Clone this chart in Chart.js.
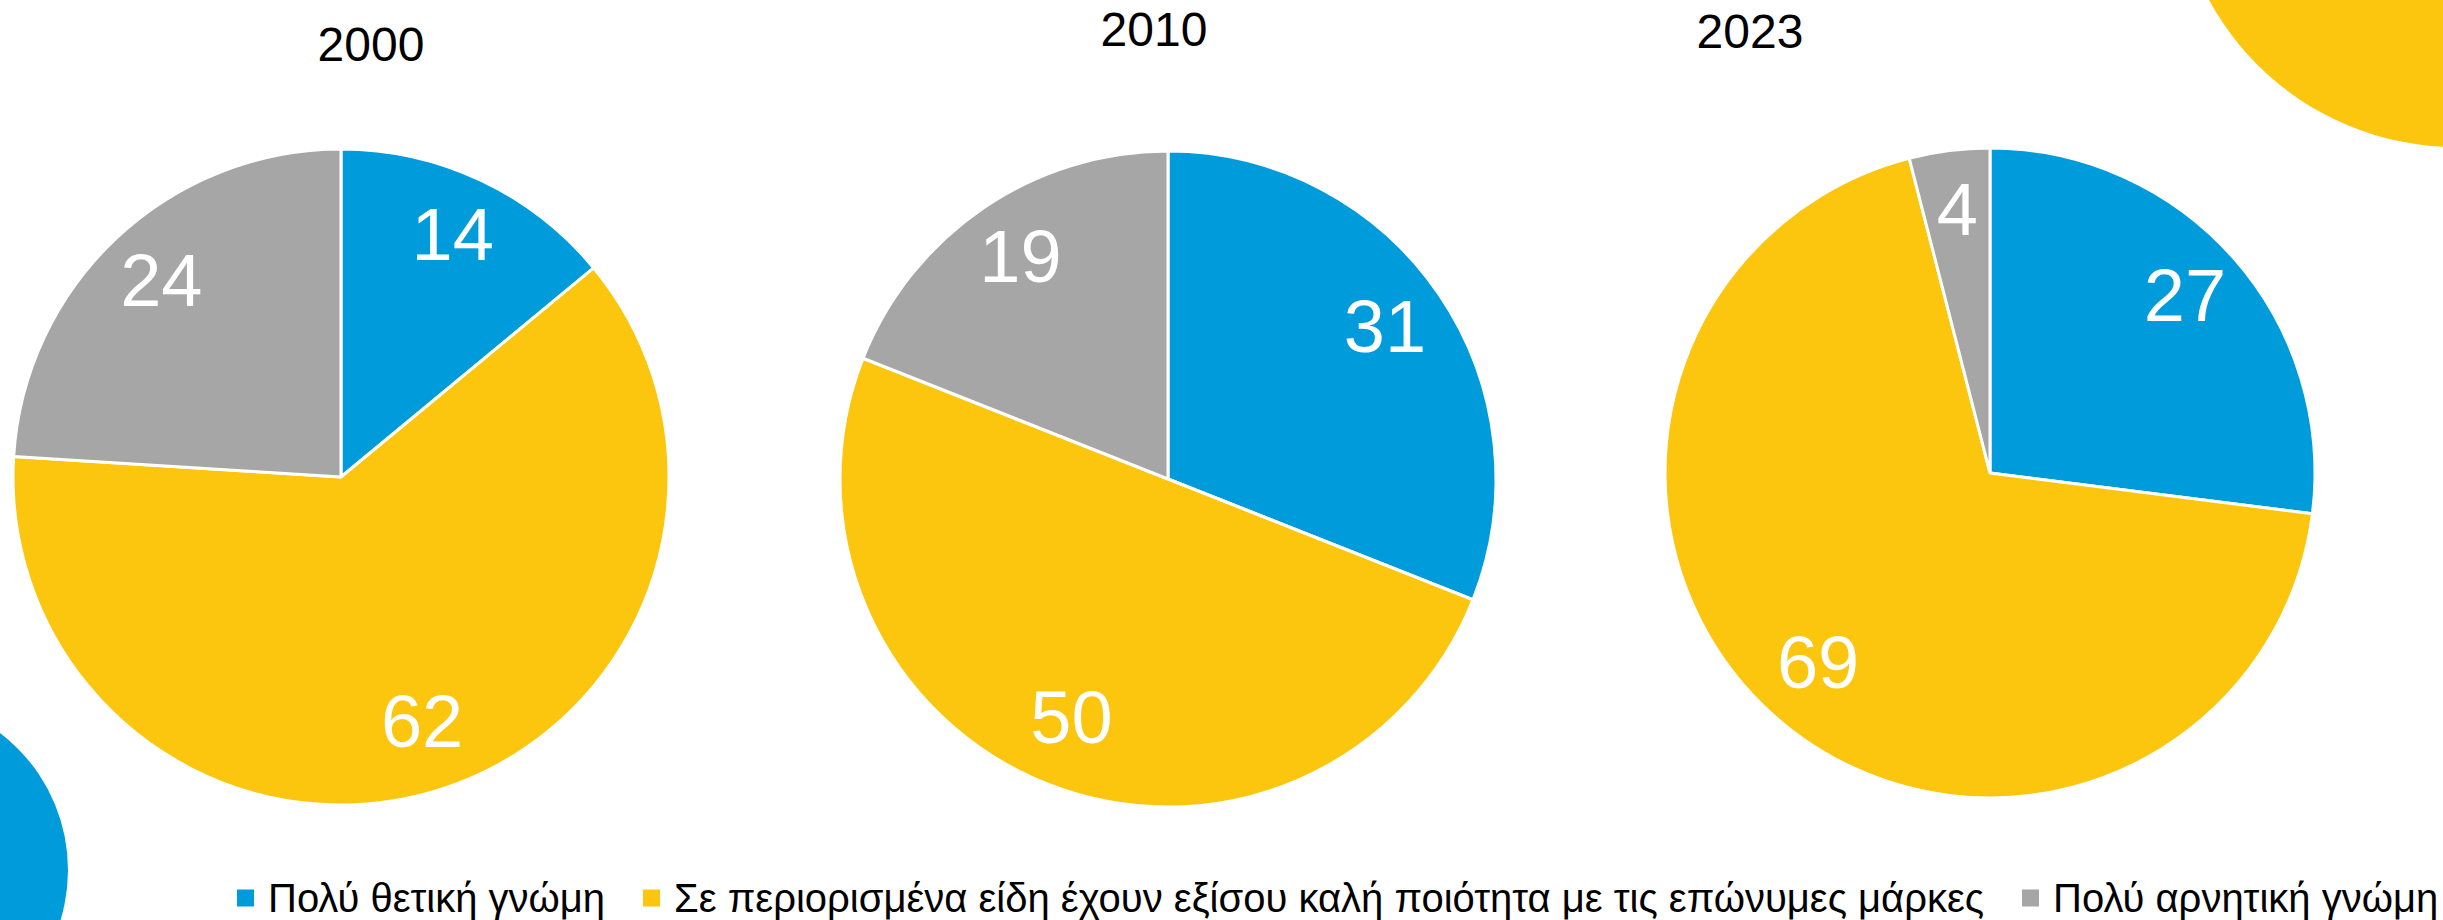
<!DOCTYPE html>
<html>
<head>
<meta charset="utf-8">
<script src="https://cdn.jsdelivr.net/npm/chart.js@4"></script>
<style>
  html, body { margin: 0; padding: 0; background: #fff; }
  body { width: 2443px; height: 920px; position: relative; overflow: hidden; font-family: "Liberation Sans", Arial, sans-serif; }
  .deco { position: absolute; border-radius: 50%; }
  .pie { position: absolute; width: 720px; height: 720px; }
  .year { position: absolute; font-size: 48px; line-height: 1; color: #000; transform: translate(-50%, -50%); white-space: nowrap; }
  #legend { position: absolute; left: 237px; top: 898px; transform: translateY(-50%); display: flex; align-items: center; white-space: nowrap; }
  .item { display: flex; align-items: center; margin-right: 38px; font-size: 40px; color: #000; }
  .box { width: 17px; height: 17px; margin-right: 14px; }
</style>
</head>
<body>
<!-- decorative circles -->
<div class="deco" style="left:-276px; top:698px; width:344px; height:344px; background:#009bdb;"></div>
<div class="deco" style="left:2175px; top:-415px; width:562px; height:562px; background:#fcc60f;"></div>

<div class="pie" style="left:-19px; top:117px;"><canvas id="pie0" width="720" height="720"></canvas></div>
<div class="pie" style="left:808px; top:119px;"><canvas id="pie1" width="720" height="720"></canvas></div>
<div class="pie" style="left:1630px; top:113px;"><canvas id="pie2" width="720" height="720"></canvas></div>

<div class="year" style="left:371px; top:45px;">2000</div>
<div class="year" style="left:1154px; top:30px;">2010</div>
<div class="year" style="left:1750px; top:32px;">2023</div>

<div id="legend"></div>

<script>
// δεδομένα
const years = ['2000', '2010', '2023'];
const categories = [
    'Πολύ θετική γνώμη',
    'Σε περιορισμένα είδη έχουν εξίσου καλή ποιότητα με τις επώνυμες μάρκες',
    'Πολύ αρνητική γνώμη'
];
const values2000 = [14, 62, 24];
const values2010 = [31, 50, 19];
const values2023 = [27, 69, 4];

const colors = ['#009bdb', '#fcc60f', '#a6a6a6'];
const radii = [328, 328, 325];

// labels inside the slices, at 80% of the radius
const sliceLabels = {
    id: 'sliceLabels',
    afterDatasetsDraw(chart) {
        const ctx = chart.ctx;
        const meta = chart.getDatasetMeta(0);
        const data = chart.data.datasets[0].data;
        ctx.save();
        ctx.fillStyle = '#fff';
        ctx.font = '74px "Liberation Sans", Arial, sans-serif';
        ctx.textAlign = 'center';
        ctx.textBaseline = 'middle';
        meta.data.forEach((arc, i) => {
            const p = arc.getProps(['x', 'y', 'startAngle', 'endAngle', 'outerRadius'], true);
            const mid = (p.startAngle + p.endAngle) / 2;
            const r = p.outerRadius * 0.8;
            ctx.fillText(String(data[i]), p.x + Math.cos(mid) * r, p.y + Math.sin(mid) * r);
        });
        ctx.restore();
    }
};

[values2000, values2010, values2023].forEach((vals, i) => {
    new Chart(document.getElementById('pie' + i), {
        type: 'pie',
        data: {
            labels: categories,
            datasets: [{
                label: years[i],
                data: vals,
                backgroundColor: colors,
                borderColor: '#fff',
                borderWidth: 3,
                radius: radii[i]
            }]
        },
        options: {
            responsive: false,
            animation: false,
            layout: { padding: 0 },
            plugins: {
                legend: { display: false },
                tooltip: { enabled: false }
            }
        },
        plugins: [sliceLabels]
    });
});

// legend
const legend = document.getElementById('legend');
categories.forEach((c, i) => {
    const item = document.createElement('div');
    item.className = 'item';
    const box = document.createElement('span');
    box.className = 'box';
    box.style.background = colors[i];
    const txt = document.createElement('span');
    txt.textContent = c;
    item.appendChild(box);
    item.appendChild(txt);
    legend.appendChild(item);
});
</script>
</body>
</html>
